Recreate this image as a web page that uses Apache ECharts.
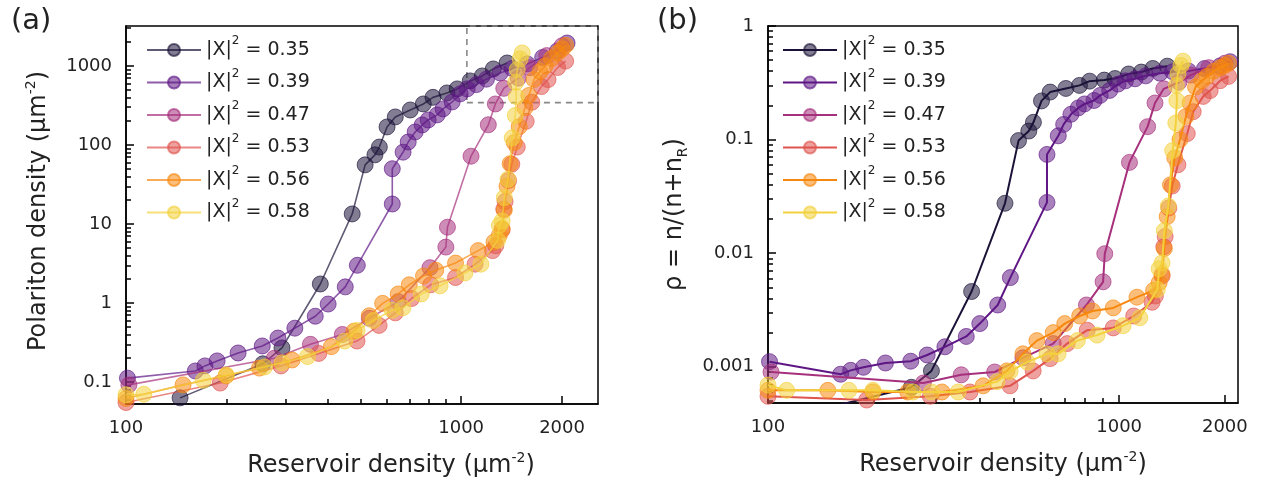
<!DOCTYPE html>
<html><head><meta charset="utf-8">
<script src="https://cdn.jsdelivr.net/npm/echarts@6/dist/echarts.min.js"></script>
<style>html,body{margin:0;padding:0;background:#fff}#c{width:1266px;height:483px}</style>
</head><body><div id="c"></div>
<script>
const FONT = 'DejaVu Sans';
const fractions = ['0.35', '0.39', '0.47', '0.53', '0.56', '0.58'];
const colors = ['#1c1238', '#5e1785', '#a6307c', '#e0544f', '#f7880f', '#f3d13c'];

// reservoir density (x) for each series
const x035 = [145, 256, 292, 380, 473, 517, 553, 570, 601, 636, 705, 771, 824, 907, 973, 1064, 1156, 1247, 1371];
const x039 = [101, 161, 172, 187, 216, 255, 284, 319, 367, 401, 451, 490, 623, 623, 671, 695, 729, 765, 797, 848, 883, 940, 993, 1042, 1110, 1190, 1307, 1420, 1575, 1750, 1937, 2070];
const x047 = [102, 277, 355, 442, 532, 649, 807, 900, 910, 1070, 1205, 1265, 1340, 1480, 1600, 1800, 2000];
const x053 = [100, 191, 290, 376, 489, 569, 636, 711, 811, 962, 1100, 1241, 1268, 1325, 1340, 1352, 1385, 1416, 1470, 1563, 1625, 1735, 1816, 1940, 2050];
const x056 = [100, 148, 199, 250, 313, 410, 479, 532, 583, 649, 700, 772, 840, 962, 1124, 1253, 1300, 1325, 1345, 1370, 1400, 1440, 1490, 1550, 1592, 1650, 1720, 1780, 1860, 1940, 2000, 2050];
const x058 = [100, 113, 170, 199, 259, 292, 348, 449, 489, 547, 623, 670, 760, 865, 1026, 1145, 1285, 1300, 1325, 1345, 1380, 1420, 1450, 1460, 1455, 1470, 1500, 1520];

// polariton density (panel a)
const n035 = [0.063, 0.17, 0.27, 1.74, 13.4, 56, 75, 94, 169, 226, 277, 330, 400, 455, 512, 646, 747, 916, 1090];
const n039 = [0.112, 0.138, 0.160, 0.185, 0.233, 0.286, 0.36, 0.48, 0.68, 0.97, 1.6, 3.0, 17.9, 50, 81, 109, 146, 179, 207, 240, 286, 350, 443, 512, 580, 680, 815, 930, 1060, 1280, 1550, 1950];
const n047 = [0.092, 0.2, 0.3, 0.4, 0.64, 1.04, 2.8, 5.1, 9.1, 72, 180, 330, 520, 700, 950, 1350, 1800];
const n053 = [0.055, 0.097, 0.16, 0.23, 0.33, 0.52, 0.75, 1.14, 1.7, 2.1, 3.1, 4.6, 5.3, 8.4, 15.4, 19.2, 35.5, 57, 94, 199, 347, 548, 671, 955, 1150];
const n056 = [0.062, 0.092, 0.12, 0.15, 0.19, 0.28, 0.44, 0.69, 0.99, 1.3, 1.7, 2.2, 2.6, 3.2, 4.6, 5.9, 7.2, 8.7, 15, 30, 58, 107, 170, 295, 423, 674, 850, 1000, 1240, 1460, 1640, 1820];
const n058 = [0.069, 0.07, 0.105, 0.123, 0.155, 0.175, 0.21, 0.33, 0.45, 0.6, 0.81, 0.87, 1.3, 1.65, 2.4, 3.1, 6.2, 9.6, 10.9, 21.6, 36.8, 123, 236, 410, 621, 900, 1230, 1460];

// rho = n/(n+nR) (panel b)
const r035 = [0.00043, 0.00066, 0.00092, 0.0046, 0.0275, 0.098, 0.119, 0.142, 0.219, 0.262, 0.282, 0.300, 0.327, 0.334, 0.345, 0.378, 0.393, 0.423, 0.443];
const r039 = [0.00111, 0.00086, 0.00093, 0.00099, 0.00108, 0.00112, 0.00127, 0.0015, 0.00185, 0.0024, 0.0035, 0.0061, 0.028, 0.074, 0.108, 0.136, 0.167, 0.190, 0.206, 0.221, 0.245, 0.271, 0.308, 0.329, 0.343, 0.364, 0.384, 0.396, 0.402, 0.422, 0.445, 0.485];
const r047 = [0.0009, 0.00072, 0.00085, 0.0009, 0.0012, 0.0016, 0.0035, 0.0056, 0.0099, 0.063, 0.13, 0.21, 0.28, 0.32, 0.37, 0.43, 0.47];
const r053 = [0.00055, 0.00051, 0.00055, 0.0006, 0.00068, 0.00092, 0.00118, 0.0016, 0.0021, 0.0022, 0.0028, 0.0037, 0.0042, 0.0063, 0.0114, 0.014, 0.025, 0.039, 0.06, 0.113, 0.176, 0.24, 0.27, 0.33, 0.36];
const r056 = [0.00062, 0.00062, 0.0006, 0.0006, 0.0006, 0.00068, 0.00092, 0.0013, 0.0017, 0.002, 0.0024, 0.0028, 0.0031, 0.0033, 0.0041, 0.0047, 0.0055, 0.0065, 0.011, 0.021, 0.040, 0.069, 0.10, 0.16, 0.21, 0.29, 0.33, 0.36, 0.40, 0.43, 0.45, 0.47];
const r058 = [0.00069, 0.00062, 0.00062, 0.00062, 0.0006, 0.0006, 0.0006, 0.00074, 0.00091, 0.0011, 0.0013, 0.0013, 0.0017, 0.0019, 0.0023, 0.0027, 0.0048, 0.0073, 0.0082, 0.0158, 0.026, 0.080, 0.14, 0.22, 0.30, 0.38, 0.45, 0.49];

// tick values
const xMajor = [100, 1000, 2000];
const xMinor = [200, 300, 400, 500, 600, 700, 800, 900];
const yMajorA = [0.1, 1, 10, 100, 1000];
const yMinorA = [0.06, 0.07, 0.08, 0.09, 0.2, 0.3, 0.4, 0.5, 0.6, 0.7, 0.8, 0.9, 2, 3, 4, 5, 6, 7, 8, 9, 20, 30, 40, 50, 60, 70, 80, 90, 200, 300, 400, 500, 600, 700, 800, 900, 2000, 3000];
const yMajorB = [0.001, 0.01, 0.1, 1];
const yMinorB = [0.0005, 0.0006, 0.0007, 0.0008, 0.0009, 0.002, 0.003, 0.004, 0.005, 0.006, 0.007, 0.008, 0.009, 0.02, 0.03, 0.04, 0.05, 0.06, 0.07, 0.08, 0.09, 0.2, 0.3, 0.4, 0.5, 0.6, 0.7, 0.8, 0.9];

const X = [x035, x039, x047, x053, x056, x058];
const NA = [n035, n039, n047, n053, n056, n058];
const RB = [r035, r039, r047, r053, r056, r058];

function rgba(hex, a) {
  const v = parseInt(hex.slice(1), 16);
  return 'rgba(' + (v >> 16) + ',' + ((v >> 8) & 255) + ',' + (v & 255) + ',' + a + ')';
}
const fmt = v => String(+(+v).toPrecision(6));

const richBase = {
  t: { fontFamily: FONT, fontSize: 24, color: '#222', lineHeight: 30 },
  s: { fontFamily: FONT, fontSize: 14, color: '#222', lineHeight: 14, verticalAlign: 'top' },
  b: { fontFamily: FONT, fontSize: 14, color: '#222', lineHeight: 30, verticalAlign: 'bottom' }
};

function xAxes(gi, max, nameOffset) {
  return [
    { gridIndex: gi, type: 'log', logBase: 10, min: 100, max: max, position: 'bottom',
      axisLine: { show: true, lineStyle: { color: '#000', width: 1.5 } },
      axisTick: { show: true, inside: true, length: 8, customValues: xMajor, lineStyle: { color: '#000', width: 1.5 } },
      axisLabel: { show: true, customValues: xMajor, fontFamily: FONT, fontSize: 18, color: '#222', margin: 15, formatter: fmt },
      splitLine: { show: false }, minorTick: { show: false },
      name: '{t|Reservoir density (μm}{s|-2}{t|)}', nameLocation: 'middle', nameGap: 47,
      nameTextStyle: { rich: richBase, padding: [0, 0, 0, nameOffset] } },
    { gridIndex: gi, type: 'log', logBase: 10, min: 100, max: max, position: 'bottom', offset: 0,
      axisLine: { show: false },
      axisTick: { show: true, inside: true, length: 5, customValues: xMinor, lineStyle: { color: '#000', width: 1.5 } },
      axisLabel: { show: false }, splitLine: { show: false } }
  ];
}
function yAxes(gi, min, max, major, minor, name, pad, gap) {
  return [
    { gridIndex: gi, type: 'log', logBase: 10, min: min, max: max, position: 'left',
      axisLine: { show: true, lineStyle: { color: '#000', width: 1.5 } },
      axisTick: { show: true, inside: true, length: 8, customValues: major, lineStyle: { color: '#000', width: 1.5 } },
      axisLabel: { show: true, customValues: major, fontFamily: FONT, fontSize: 18, color: '#222', margin: 14, formatter: fmt },
      splitLine: { show: false },
      name: name, nameLocation: 'middle', nameGap: gap, nameRotate: 90,
      nameTextStyle: { rich: richBase, padding: pad } },
    { gridIndex: gi, type: 'log', logBase: 10, min: min, max: max, position: 'left', offset: 0,
      axisLine: { show: false },
      axisTick: { show: true, inside: true, length: 5, customValues: minor, lineStyle: { color: '#000', width: 1.5 } },
      axisLabel: { show: false }, splitLine: { show: false } }
  ];
}

const series = [];
fractions.forEach((f, i) => {
  const c = colors[i];
  series.push({
    name: 'a ' + f, type: 'line', xAxisIndex: 0, yAxisIndex: 0,
    data: X[i].map((v, k) => [v, NA[i][k]]),
    symbol: 'circle', symbolSize: 16,
    lineStyle: { color: rgba(c, 0.7), width: 1.6 },
    itemStyle: { color: rgba(c, 0.55), borderColor: rgba(c, 0.65), borderWidth: 1 },
    emphasis: { disabled: true }, z: 2 + i,
    markArea: i === 0 ? { silent: true, itemStyle: { color: 'rgba(0,0,0,0)', borderColor: '#888', borderWidth: 1.6, borderType: [6, 5] },
      data: [[{ coord: [1040, 343] }, { coord: [2560, 3200] }]] } : undefined
  });
  series.push({
    name: 'b ' + f, type: 'line', xAxisIndex: 2, yAxisIndex: 2,
    data: X[i].map((v, k) => [v, RB[i][k]]),
    symbol: 'circle', symbolSize: 16,
    lineStyle: { color: c, width: 2 },
    itemStyle: { color: rgba(c, 0.55), borderColor: rgba(c, 0.65), borderWidth: 1 },
    emphasis: { disabled: true }, z: 2 + i
  });
});

function legendFor(prefix, left) {
  return {
    data: fractions.map(f => prefix + f), orient: 'vertical', left: left, top: 35, padding: 0,
    itemWidth: 54, itemHeight: 15, itemGap: 8, selectedMode: false,
    formatter: n => '{t||X|}{s|2}{t| = ' + n.slice(2) + '}',
    textStyle: { rich: {
      t: { fontFamily: FONT, fontSize: 19, color: '#222', lineHeight: 30 },
      s: { fontFamily: FONT, fontSize: 12, color: '#222', lineHeight: 20, verticalAlign: 'top' } } }
  };
}

const chart = echarts.init(document.getElementById('c'), null, { renderer: 'canvas' });
chart.setOption({
  animation: false,
  backgroundColor: '#fff',
  title: [
    { text: '(a)', left: 6, top: 2, textStyle: { fontFamily: FONT, fontSize: 29, fontWeight: 'normal', color: '#222' } },
    { text: '(b)', left: 652, top: 2, textStyle: { fontFamily: FONT, fontSize: 29, fontWeight: 'normal', color: '#222' } }
  ],
  grid: [
    { left: 126, top: 26, width: 472, height: 378, show: true, borderColor: '#000', borderWidth: 1.5, backgroundColor: 'transparent' },
    { left: 768, top: 26, width: 470, height: 377, show: true, borderColor: '#000', borderWidth: 1.5, backgroundColor: 'transparent' }
  ],
  xAxis: [...xAxes(0, 2560, 58), ...xAxes(1, 2180, 0)],
  yAxis: [
    ...yAxes(0, 0.0527, 3200, yMajorA, yMinorA, '{t|Polariton density (μm}{s|-2}{t|)}', [0, 0, 0, 8], 72),
    ...yAxes(1, 0.00048, 1, yMajorB, yMinorB, '{t|ρ = n/(n+n}{b|R}{t|)}', [0, 0, 0, 0], 78)
  ],
  legend: [legendFor('a ', 146), legendFor('b ', 782)],
  series: series
});
</script></body></html>
